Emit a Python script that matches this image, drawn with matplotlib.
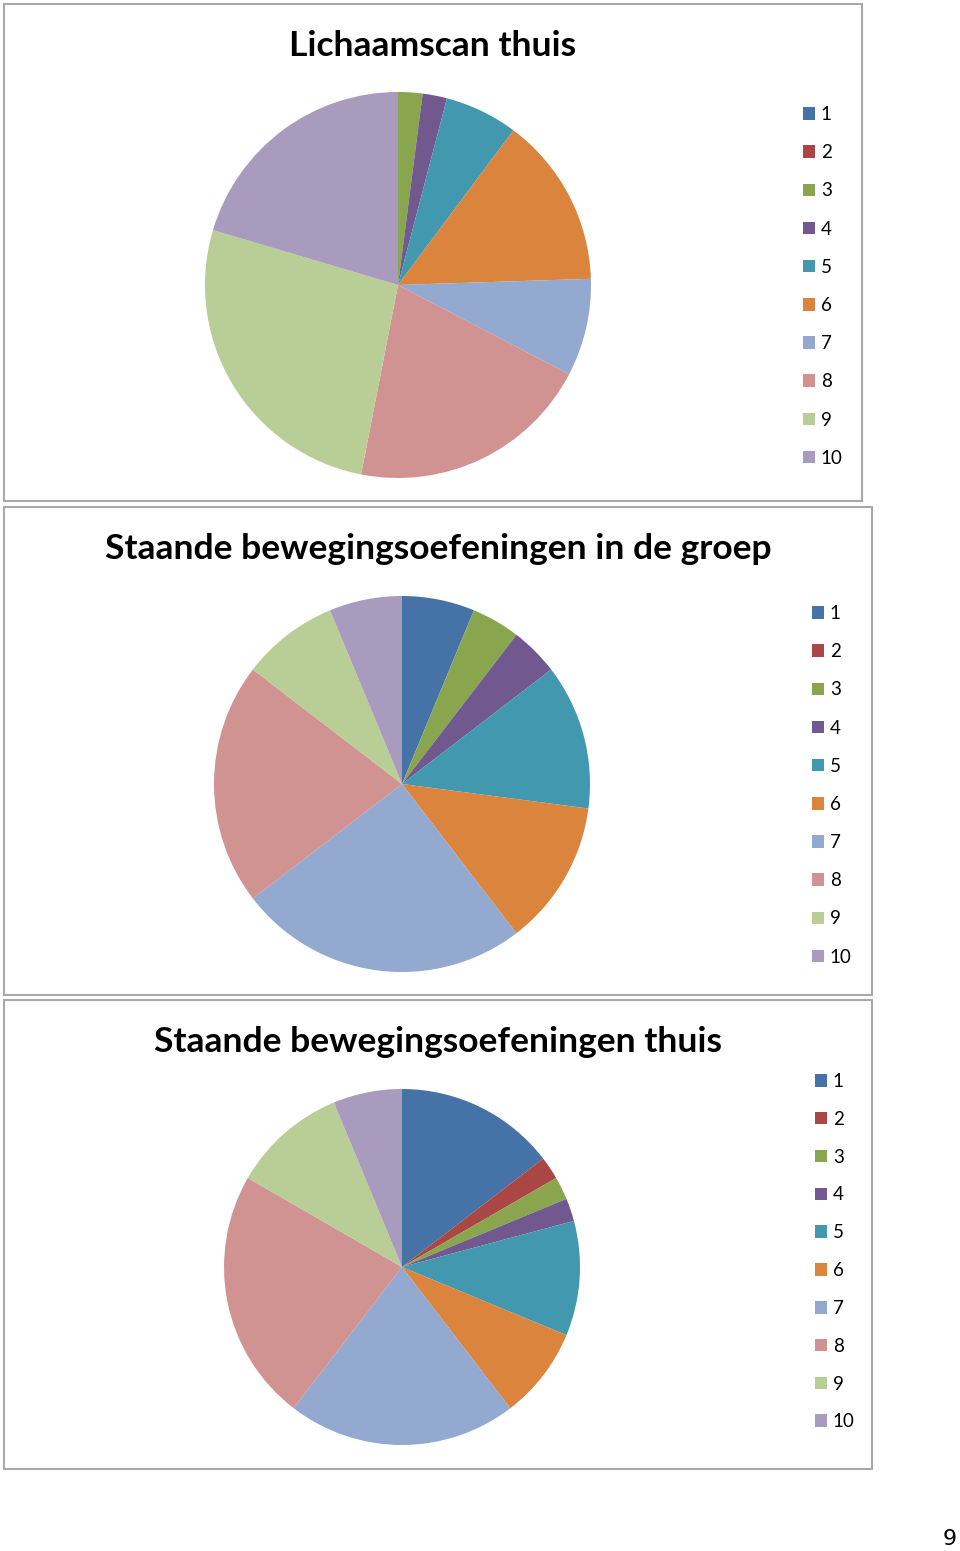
import matplotlib.pyplot as plt
from matplotlib.patches import Rectangle

W, H = 960, 1551

labels = ['1', '2', '3', '4', '5', '6', '7', '8', '9', '10']
colors = ['#4572A7', '#AA4643', '#89A54E', '#71588F', '#4198AF',
          '#DB843D', '#93A9CF', '#D19392', '#B9CD96', '#A99BBD']

titles = ['Lichaamscan thuis',
          'Staande bewegingsoefeningen in de groep',
          'Staande bewegingsoefeningen thuis']

lichaamscan_thuis = [0, 0, 1, 1, 3, 7, 4, 10, 13, 10]
staande_groep = [3, 0, 2, 2, 6, 6, 12, 10, 4, 3]
staande_thuis = [7, 1, 1, 1, 5, 4, 10, 11, 5, 3]
series = [lichaamscan_thuis, staande_groep, staande_thuis]

# layout in pixels: frame box, pie centre/radius, title y, legend x / first row y
frames = [(4, 4, 862, 501), (4, 507, 872, 995), (4, 1000, 872, 1469)]
pies = [(398, 285, 193), (402, 784, 188), (402, 1267, 178)]
title_y = [46, 549, 1042]
legend_pos = [(803, 113), (812, 612), (815, 1080)]
legend_gap = [1.13, 1.13, 1.11]

plt.rcParams['font.family'] = ['Lato', 'DejaVu Sans']

fig = plt.figure(figsize=(W / 100, H / 100), dpi=100)


def fx(x):
    return x / W


def fy(y):
    return 1 - y / H


for i in range(3):
    x0, y0, x1, y1 = frames[i]
    fig.add_artist(Rectangle((fx(x0), fy(y1)), fx(x1 - x0), (y1 - y0) / H,
                             transform=fig.transFigure, fill=False,
                             edgecolor='#A8A8A8', linewidth=1.5))

    cx, cy, r = pies[i]
    ax = fig.add_axes([fx(cx - r), fy(cy + r), 2 * r / W, 2 * r / H])
    wedges, _ = ax.pie(series[i], colors=colors, startangle=90,
                       counterclock=False, radius=1,
                       wedgeprops=dict(linewidth=0))
    ax.set_xlim(-1, 1)
    ax.set_ylim(-1, 1)
    ax.set_aspect('equal')
    ax.axis('off')

    fig.text(fx((x0 + x1) / 2), fy(title_y[i]), titles[i], ha='center',
             va='center', fontsize=25.5, fontweight='bold', color='black')

    lx, ly = legend_pos[i]
    fig.legend(wedges, labels, loc='upper left',
               bbox_to_anchor=(fx(lx), fy(ly - 7)), frameon=False,
               fontsize=13.5, borderpad=0, borderaxespad=0,
               handlelength=0.65, handleheight=0.65, handletextpad=0.3,
               labelspacing=legend_gap[i])

# page number
fig.text(fx(957), fy(1539), '9', ha='right', va='center', fontsize=16,
         family='DejaVu Sans')

fig.savefig('out.png', dpi=100)
